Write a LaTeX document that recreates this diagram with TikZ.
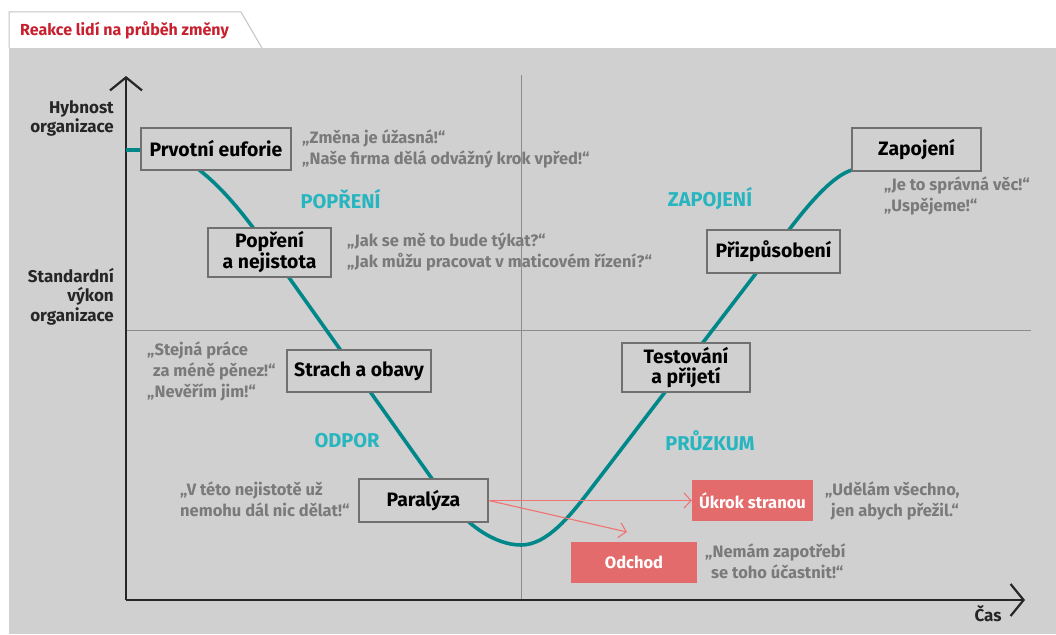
\documentclass[tikz,border=0pt]{standalone}
\usepackage{fontspec}
\setmainfont{Fira Sans}
\usetikzlibrary{arrows.meta}
\definecolor{panel}{HTML}{D0D0D0}
\definecolor{tabline}{HTML}{C4C4C4}
\definecolor{titlered}{HTML}{C8202F}
\definecolor{curve}{HTML}{00878A}
\definecolor{phase}{HTML}{27B5C0}
\definecolor{quote}{HTML}{7A7A7A}
\definecolor{boxline}{HTML}{707070}
\definecolor{exitred}{HTML}{E46B6B}
\definecolor{arrowred}{HTML}{F07272}
\tikzset{
  stage/.style={draw=boxline, line width=1.4pt, fill=panel, font=\bfseries\fontsize{19.4}{19.5}\selectfont,
    text=black, align=center, inner sep=0pt},
  exitbox/.style={fill=exitred, font=\bfseries\fontsize{16.5}{18}\selectfont, text=white, inner sep=0pt},
  saying/.style={font=\bfseries\fontsize{16.5}{21}\selectfont, text=quote, align=left, anchor=north west, inner sep=0pt},
  phaselabel/.style={font=\bfseries\fontsize{20}{20}\selectfont, text=phase},
  axislabel/.style={font=\bfseries\fontsize{17}{19.5}\selectfont, text=black!85, align=right, anchor=north east, inner sep=0pt},
  axis/.style={line width=2.2pt, black!85, -{Straight Barb[length=13pt, width=32pt, line width=2.2pt]}},
  grid/.style={line width=1pt, black!45},
  exitarrow/.style={line width=1.1pt, arrowred, -{Straight Barb[length=7pt, width=15pt, line width=1.1pt]}}
}
\begin{document}
\begin{tikzpicture}[x=1pt, y=-1pt]
\useasboundingbox (0,0) rectangle (1056,634);
% backdrop, tab and title
\fill[white] (0,0) rectangle (1056,634);
\fill[panel] (9,48) rectangle (1056,634);
\draw[tabline, line width=1pt, fill=white] (9,48) -- (9,12) -- (241,12) -- (262,48);
\node[font=\bfseries\fontsize{16}{18}\selectfont, text=titlered, anchor=west, inner sep=0pt] (title) at (20,30) {Reakce lidí na průběh změny};

% reference lines
\coordinate (vtop) at (521,75);
\coordinate (vbot) at (521,600);
\coordinate (hleft) at (126,330);
\coordinate (hright) at (1031,330);
\draw[grid] (vtop) -- (vbot);
\draw[grid] (hleft) -- (hright);

% axes
\coordinate (origin) at (126,600);
\coordinate (yend) at (126,76);
\coordinate (xend) at (1025,600);
\draw[axis] (origin) -- (yend);
\draw[axis] (origin) -- (xend);
\node[font=\bfseries\fontsize{17}{18}\selectfont, text=black!85] (cas) at (988,614) {Čas};
\node[axislabel] (hyb) at (114,100) {Hybnost\\organizace};
\node[axislabel] (std) at (114,268) {Standardní\\výkon\\organizace};

% change curve
\draw[curve, line width=3.6pt] (126,150) -- (150,150)
  .. controls (195,150) and (238,206) .. (268,248)
  -- (440,490)
  .. controls (465,525) and (495,545) .. (521,545)
  .. controls (547,545) and (570,516) .. (590,490)
  -- (770,255)
  .. controls (790,229) and (825,178) .. (852,170);

% stages
\node[stage, minimum width=150pt, minimum height=42pt] (euf) at (216,149) {Prvotní euforie};
\node[stage, minimum width=123pt, minimum height=49pt] (pop) at (269.5,252.5) {Popření\\a nejistota};
\node[stage, minimum width=144pt, minimum height=42pt] (str) at (359,371) {Strach a obavy};
\node[stage, minimum width=129pt, minimum height=43pt] (par) at (423.5,500.5) {Paralýza};
\node[stage, minimum width=128pt, minimum height=49pt] (tes) at (686,367.5) {Testování\\a přijetí};
\node[stage, minimum width=133pt, minimum height=43pt] (pri) at (773.5,251.5) {Přizpůsobení};
\node[stage, minimum width=129pt, minimum height=43pt] (zap) at (916.5,149.5) {Zapojení};

% ways out
\node[exitbox, minimum width=121pt, minimum height=41pt] (ukr) at (752.5,500.5) {Úkrok stranou};
\node[exitbox, minimum width=126pt, minimum height=41pt] (odc) at (634,562.5) {Odchod};
\coordinate (odctip) at (627,532);
\draw[exitarrow] (par.east) -- (ukr.west);
\draw[exitarrow] (par.east) -- (odctip);

% phases
\node[phaselabel] (ph1) at (340.5,199) {POPŘENÍ};
\node[phaselabel] (ph2) at (347,441) {ODPOR};
\node[phaselabel] (ph3) at (710,199) {ZAPOJENÍ};
\node[phaselabel] (ph4) at (710,441) {PRŮZKUM};

% what people say
\node[saying] (q1) at (302,130) {„Změna je úžasná!“\\„Naše firma dělá odvážný krok vpřed!“};
\node[saying] (q2) at (347,233) {„Jak se mě to bude týkat?“\\„Jak můžu pracovat v maticovém řízení?“};
\node[saying] (q3) at (147,342) {„Stejná práce\\\hspace*{6pt}za méně pěnez!“\\„Nevěřím jim!“};
\node[saying] (q4) at (180,482) {„V této nejistotě už\\nemohu dál nic dělat!“};
\node[saying] (q5) at (884,177) {„Je to správná věc!“\\„Uspějeme!“};
\node[saying] (q6) at (825,482) {„Udělám všechno,\\\hspace*{6pt}jen abych přežil.“};
\node[saying] (q7) at (705,544) {„Nemám zapotřebí\\\hspace*{6pt}se toho účastnit!“};
\end{tikzpicture}
\end{document}
